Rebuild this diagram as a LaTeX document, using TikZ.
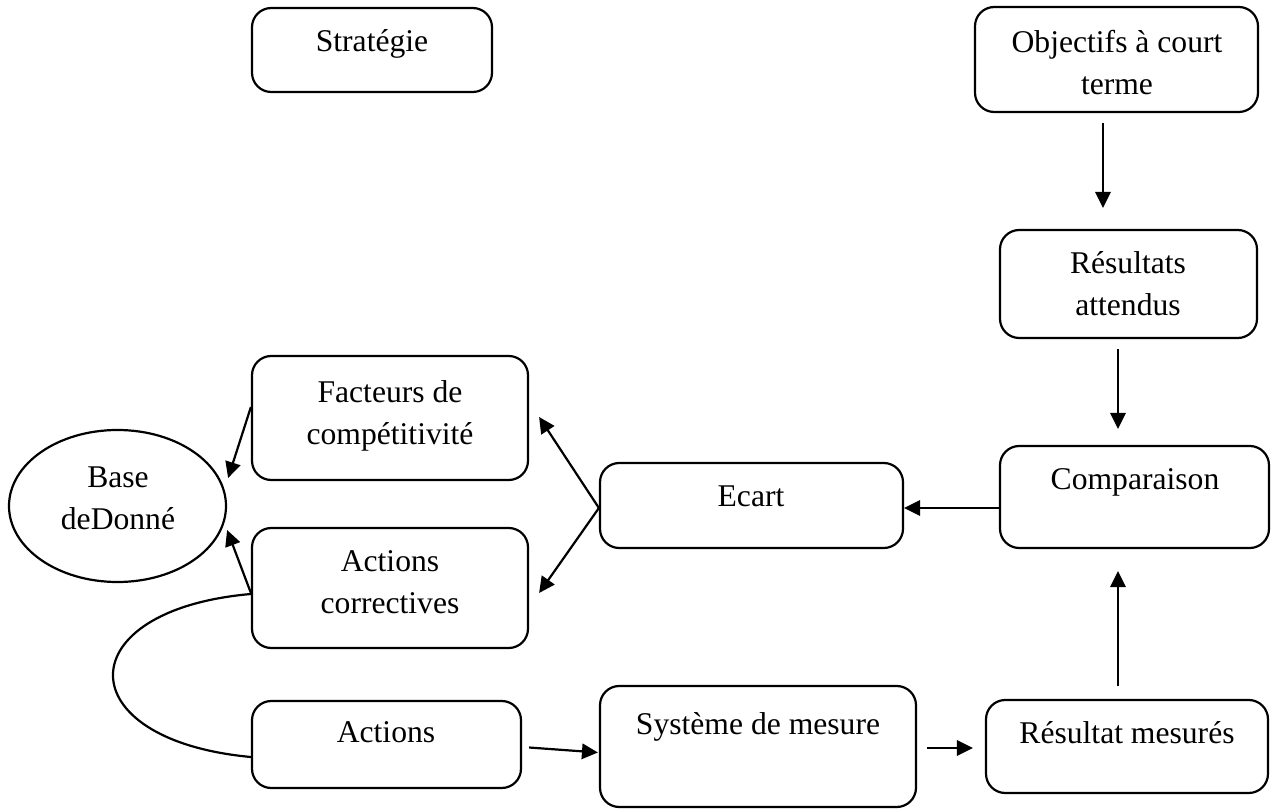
\documentclass[tikz,border=0pt]{standalone}
\usepackage{fontspec}
\setmainfont{Liberation Serif}
\usetikzlibrary{arrows.meta,calc,shapes.geometric}

% one drawing unit = one pixel of a 1271 x 809 canvas
\newcommand{\pxu}{0.36364pt}

\tikzset{
  box/.style={draw, line width=0.8pt, rounded corners=7pt, inner sep=0pt},
  oval/.style={draw, line width=0.8pt, ellipse, inner sep=0pt},
  lbl/.style={anchor=north, inner sep=0pt, align=center,
              font=\fontsize{11.5pt}{15.27pt}\selectfont},
  arr/.style={line width=0.8pt, -{Triangle[length=5.8pt,width=5.6pt]}},
  link/.style={line width=0.8pt}
}

\begin{document}
\begin{tikzpicture}[x=\pxu, y=-\pxu]
  \useasboundingbox (0,0) rectangle (1271,809);

  % boxes
  \node[box, minimum width=240*\pxu, minimum height=84*\pxu]  (strat) at (372,50) {};
  \node[box, minimum width=283*\pxu, minimum height=105*\pxu] (obj)   at (1116.5,59.5) {};
  \node[box, minimum width=257*\pxu, minimum height=108*\pxu] (att)   at (1128.5,284) {};
  \node[box, minimum width=269*\pxu, minimum height=102*\pxu] (comp)  at (1134.5,497) {};
  \node[box, minimum width=303*\pxu, minimum height=85*\pxu]  (ecart) at (751.5,505.5) {};
  \node[box, minimum width=276*\pxu, minimum height=124*\pxu] (fac)   at (390,418) {};
  \node[box, minimum width=276*\pxu, minimum height=120*\pxu] (ac)    at (390,588) {};
  \node[box, minimum width=269*\pxu, minimum height=87*\pxu]  (act)   at (386.5,744.5) {};
  \node[box, minimum width=316*\pxu, minimum height=121*\pxu] (sys)   at (758,746.5) {};
  \node[box, minimum width=282*\pxu, minimum height=93*\pxu]  (rm)    at (1127,746.5) {};
  \node[oval, minimum width=217*\pxu, minimum height=152*\pxu] (base) at (117.5,506) {};

  % texts
  \node[lbl] (strat-t) at (372,29)   {Stratégie};
  \node[lbl] (obj-t)   at (1117,30)  {Objectifs à court\\terme};
  \node[lbl] (att-t)   at (1128,251) {Résultats\\attendus};
  \node[lbl] (comp-t)  at (1135,468) {Comparaison};
  \node[lbl] (ecart-t) at (751,485)  {Ecart};
  \node[lbl] (fac-t)   at (390,380)  {Facteurs de\\compétitivité};
  \node[lbl] (ac-t)    at (390,550)  {Actions\\correctives};
  \node[lbl] (act-t)   at (386,721)  {Actions};
  \node[lbl] (sys-t)   at (758,712)  {Système de mesure};
  \node[lbl] (rm-t)    at (1127,721) {Résultat mesurés};
  \node[lbl] (base-t)  at (118,466)  {Base\\deDonné};

  % connectors
  \draw[arr] ($(obj.south)+(-13.5,10)$)  -- ($(att.north)+(-25.5,-21)$);
  \draw[arr] ($(att.south)+(-10.5,10)$)  -- ($(comp.north)+(-16.5,-16)$);
  \draw[arr] ($(rm.north)+(-9,-13)$)     -- ($(comp.south)+(-16.5,22)$);
  \draw[arr] ($(comp.west)+(0,11)$)      -- ($(ecart.east)+(0,2.5)$);
  \draw[arr] ($(ecart.west)+(0,2.5)$)    -- ($(fac.east)+(10,-1)$);
  \draw[arr] ($(ecart.west)+(0,2.5)$)    -- ($(ac.east)+(10,5)$);
  \draw[arr] ($(fac.west)+(0,-11)$)      -- ($(base.east)+(1,-28)$);
  \draw[arr] ($(ac.west)+(0,5)$)         -- ($(base.east)+(0,24)$);
  \draw[arr] ($(act.east)+(7,3)$)        -- ($(sys.west)+(-1,6)$);
  \draw[arr] ($(sys.east)+(10,1.5)$)     -- ($(rm.west)+(-12,1.5)$);
  \draw[link] ($(ac.west)+(0,6)$) .. controls (67,610) and (67,740) .. ($(act.west)+(0,12.5)$);
\end{tikzpicture}
\end{document}
